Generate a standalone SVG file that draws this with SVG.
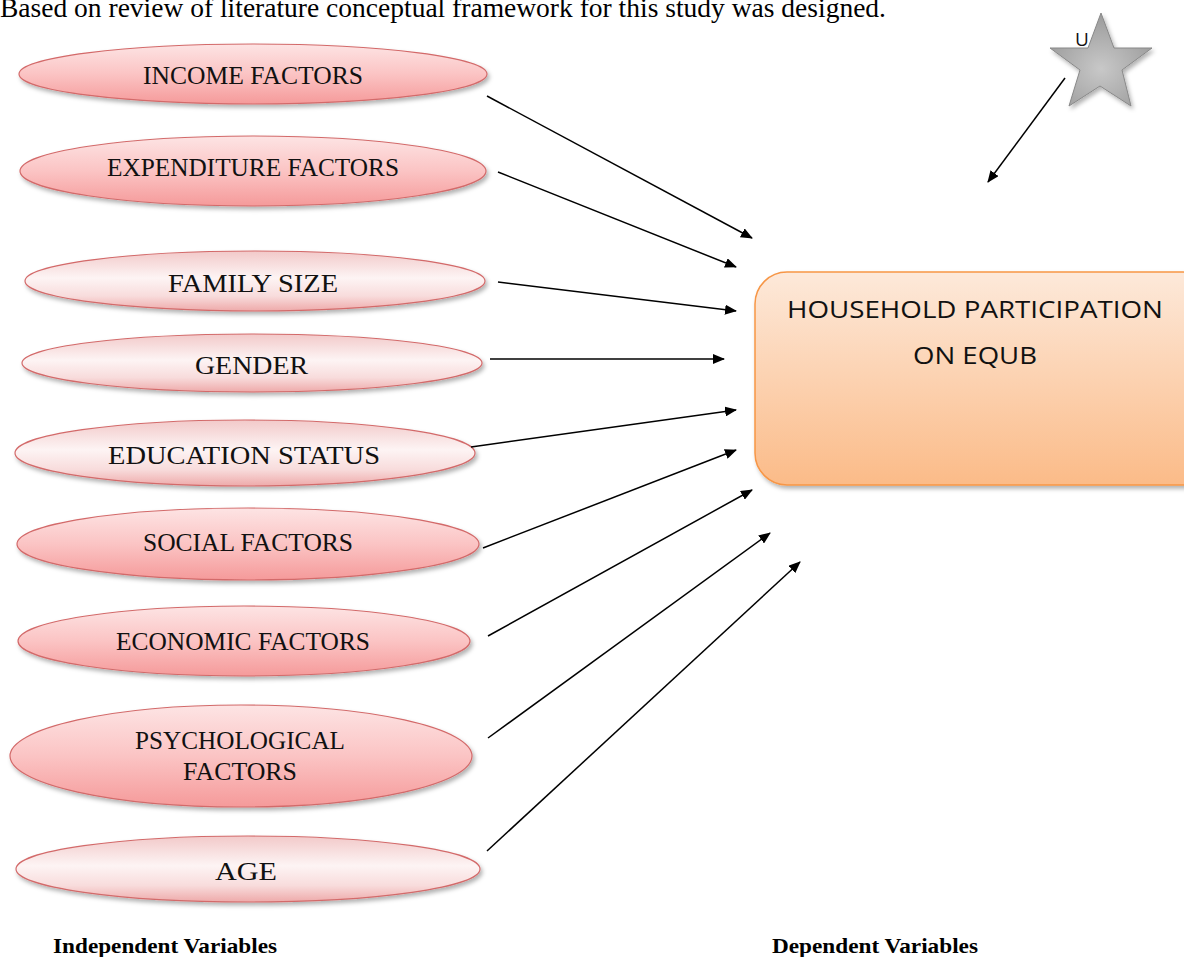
<svg xmlns="http://www.w3.org/2000/svg" width="1184" height="957" viewBox="0 0 1184 957">
<defs>
<linearGradient id="gStrong" x1="0" y1="0" x2="0" y2="1">
<stop offset="0" stop-color="#fde4e4"/>
<stop offset="0.5" stop-color="#fbc4c4"/>
<stop offset="1" stop-color="#f59a9a"/>
</linearGradient>
<linearGradient id="gLight" x1="0" y1="0" x2="0" y2="1">
<stop offset="0" stop-color="#f2c9c9"/>
<stop offset="0.45" stop-color="#fdf4f4"/>
<stop offset="0.75" stop-color="#f8dcdc"/>
<stop offset="1" stop-color="#eeaaaa"/>
</linearGradient>
<linearGradient id="gBox" x1="0" y1="0" x2="0" y2="1">
<stop offset="0" stop-color="#fde9da"/>
<stop offset="1" stop-color="#fbbb88"/>
</linearGradient>
<radialGradient id="gStar" cx="0.5" cy="0.6" r="0.6">
<stop offset="0" stop-color="#c8c8c8"/>
<stop offset="1" stop-color="#9a9a9a"/>
</radialGradient>
<filter id="sh" x="-10%" y="-30%" width="120%" height="170%">
<feDropShadow dx="2" dy="3" stdDeviation="2" flood-color="#000" flood-opacity="0.3"/>
</filter>
<marker id="ah" markerWidth="12" markerHeight="10" refX="11" refY="5" orient="auto" markerUnits="userSpaceOnUse" viewBox="0 0 12 10">
<path d="M0,0 L12,5 L0,10 z" fill="#000"/>
</marker>
<style>
.ell{stroke:#d36a6a;stroke-width:1.2;filter:url(#sh)}
.strong{fill:url(#gStrong)}
.light{fill:url(#gLight)}
.lbl{font-family:"Liberation Serif",serif;font-size:25px;fill:#111;text-anchor:middle}
.con{stroke:#000;stroke-width:1.5;fill:none;marker-end:url(#ah)}
.cap{font-family:"Liberation Serif",serif;font-weight:bold;font-size:22px;fill:#000}
</style>
</defs>
<rect width="1184" height="957" fill="#fff"/>
<text x="0" y="17" font-family="Liberation Serif, serif" font-size="27.5" fill="#000" textLength="886" lengthAdjust="spacingAndGlyphs">Based on review of literature conceptual framework for this study was designed.</text>

<g id="n-income"><ellipse class="ell strong" cx="253" cy="74" rx="234" ry="30"/><text class="lbl" x="253" y="84" textLength="220" lengthAdjust="spacingAndGlyphs">INCOME FACTORS</text></g>
<g id="n-expenditure"><ellipse class="ell strong" cx="253" cy="171" rx="233" ry="35"/><text class="lbl" x="253" y="176" textLength="292" lengthAdjust="spacingAndGlyphs">EXPENDITURE FACTORS</text></g>
<g id="n-family"><ellipse class="ell light" cx="255" cy="281" rx="230" ry="30"/><text class="lbl" x="253" y="292" textLength="170" lengthAdjust="spacingAndGlyphs">FAMILY SIZE</text></g>
<g id="n-gender"><ellipse class="ell light" cx="252" cy="363" rx="230" ry="29"/><text class="lbl" x="251.5" y="374" textLength="113" lengthAdjust="spacingAndGlyphs">GENDER</text></g>
<g id="n-education"><ellipse class="ell light" cx="245" cy="453" rx="230" ry="33"/><text class="lbl" x="244" y="464" textLength="272" lengthAdjust="spacingAndGlyphs">EDUCATION STATUS</text></g>
<g id="n-social"><ellipse class="ell strong" cx="248" cy="544" rx="231" ry="36"/><text class="lbl" x="248" y="551" textLength="210" lengthAdjust="spacingAndGlyphs">SOCIAL FACTORS</text></g>
<g id="n-economic"><ellipse class="ell strong" cx="244" cy="641" rx="226" ry="35"/><text class="lbl" x="243" y="650" textLength="254" lengthAdjust="spacingAndGlyphs">ECONOMIC FACTORS</text></g>
<g id="n-psych"><ellipse class="ell strong" cx="241" cy="756" rx="231" ry="51"/><text class="lbl" x="240" y="749" textLength="210" lengthAdjust="spacingAndGlyphs">PSYCHOLOGICAL</text><text class="lbl" x="240" y="780" textLength="114" lengthAdjust="spacingAndGlyphs">FACTORS</text></g>
<g id="n-age"><ellipse class="ell light" cx="248" cy="869" rx="232" ry="33"/><text class="lbl" x="246" y="880" textLength="62" lengthAdjust="spacingAndGlyphs">AGE</text></g>

<g id="n-household">
<rect x="755" y="272" width="460" height="213" rx="32" ry="32" fill="url(#gBox)" stroke="#f79646" stroke-width="1.5" filter="url(#sh)"/>
<text x="975" y="318" font-family="Open Sans, sans-serif" font-size="24" fill="#111" text-anchor="middle" textLength="376" lengthAdjust="spacingAndGlyphs">HOUSEHOLD PARTICIPATION</text>
<text x="975" y="364" font-family="Open Sans, sans-serif" font-size="24" fill="#111" text-anchor="middle" textLength="124" lengthAdjust="spacingAndGlyphs">ON EQUB</text>
</g>

<g id="n-u">
<polygon points="1101,13 1114,48 1152,48 1122,70 1131,106 1100,86 1069,106 1080,70 1050,48 1088,48" fill="url(#gStar)" stroke="#888" stroke-width="1" filter="url(#sh)"/>
<text x="1075" y="46" font-family="Open Sans, sans-serif" font-size="19" fill="#111">U</text>
</g>

<g id="connectors">
<line class="con" x1="487" y1="96" x2="752" y2="238"/>
<line class="con" x1="498" y1="172" x2="736" y2="267"/>
<line class="con" x1="498" y1="282" x2="736" y2="311"/>
<line class="con" x1="490" y1="359" x2="724" y2="359"/>
<line class="con" x1="471" y1="447" x2="736" y2="410"/>
<line class="con" x1="483" y1="548" x2="736" y2="450"/>
<line class="con" x1="488" y1="636" x2="752" y2="490"/>
<line class="con" x1="488" y1="738" x2="770" y2="533"/>
<line class="con" x1="487" y1="851" x2="800" y2="562"/>
<line class="con" x1="1065" y1="78" x2="988" y2="182"/>
</g>

<text class="cap" x="53" y="953" textLength="224" lengthAdjust="spacingAndGlyphs">Independent Variables</text>
<text class="cap" x="772" y="953" textLength="206" lengthAdjust="spacingAndGlyphs">Dependent Variables</text>
</svg>
